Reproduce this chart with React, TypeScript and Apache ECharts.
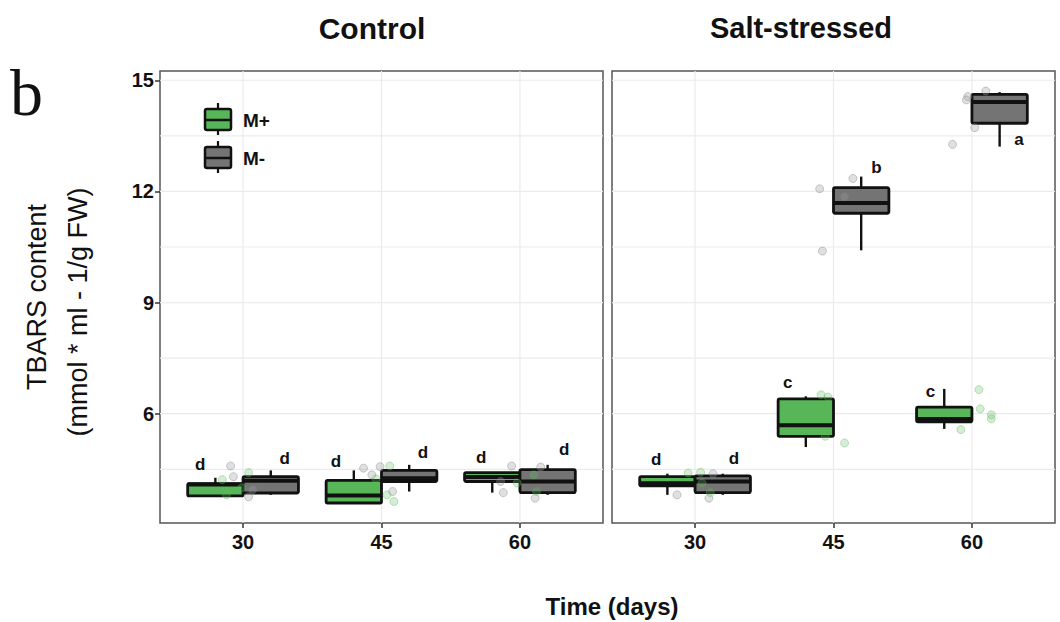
import React, { useEffect, useRef } from "react";
import * as echarts from "echarts";

const days = ["30", "45", "60"];
const groups = ["M+", "M-"];
const yTickValues = [6, 9, 12, 15];
const yGridValues = [4.5, 6, 7.5, 9, 10.5, 12, 13.5, 15];
const xGridValues = [1, 2, 3];

// box stats per day: [min, q1, median, q3, max]
const controlMPlus = [
  [3.78, 3.78, 4.09, 4.11, 4.27],
  [3.59, 3.59, 3.79, 4.2, 4.47],
  [3.87, 4.17, 4.29, 4.41, 4.41],
];
const controlMMinus = [
  [3.81, 3.86, 4.19, 4.3, 4.47],
  [3.9, 4.17, 4.26, 4.47, 4.62],
  [3.81, 3.87, 4.17, 4.49, 4.62],
];
const saltMPlus = [
  [3.81, 4.05, 4.12, 4.3, 4.38],
  [5.1, 5.39, 5.69, 6.4, 6.47],
  [5.59, 5.78, 5.86, 6.18, 6.67],
];
const saltMMinus = [
  [3.81, 3.87, 4.17, 4.32, 4.38],
  [10.41, 11.41, 11.69, 12.1, 12.4],
  [13.21, 13.84, 14.41, 14.62, 14.68],
];

// individual observations (jittered)
const controlMPlusPts = [[4.41, 4.22, 3.81, 4.0], [4.59, 4.24, 3.81, 3.63], [4.13, 4.35, 3.9]];
const controlMPlusJit = [[0.04, -0.15, -0.12, -0.01], [0.06, -0.04, 0.04, 0.09], [-0.02, 0.1, 0.12]];
const controlMMinusPts = [[4.59, 4.3, 3.76, 3.95], [4.53, 4.35, 4.57, 3.9], [4.59, 3.87, 4.56, 3.72, 4.17]];
const controlMMinusJit = [[-0.09, -0.07, 0.04, 0.07], [-0.13, -0.07, -0.01, 0.08], [-0.06, -0.12, 0.15, 0.11, -0.14]];
const saltMPlusPts = [[4.4, 4.42, 4.13, 3.87], [6.51, 5.39, 5.21, 6.45], [6.65, 6.13, 5.97, 5.86, 5.57]];
const saltMPlusJit = [[-0.05, 0.04, 0.05, 0.11], [-0.09, -0.06, 0.08, -0.04], [0.05, 0.06, 0.14, 0.14, -0.08]];
const saltMMinusPts = [[3.81, 3.72, 4.38], [12.07, 12.35, 10.39, 11.86], [14.56, 14.47, 14.71, 13.72, 13.27]];
const saltMMinusJit = [[-0.13, 0.1, 0.13], [-0.1, 0.14, -0.08, 0.08], [-0.03, -0.04, 0.1, 0.02, -0.14]];

// significance letters
const controlMPlusLetters = ["d", "d", "d"];
const controlMPlusLetterY = [4.62, 4.71, 4.83];
const controlMPlusLetterDx = [-0.31, -0.33, -0.28];
const controlMMinusLetters = ["d", "d", "d"];
const controlMMinusLetterY = [4.8, 4.95, 5.03];
const controlMMinusLetterDx = [0.3, 0.3, 0.32];
const saltMPlusLetters = ["d", "c", "c"];
const saltMPlusLetterY = [4.76, 6.83, 6.6];
const saltMPlusLetterDx = [-0.28, -0.33, -0.3];
const saltMMinusLetters = ["d", "b", "a"];
const saltMMinusLetterY = [4.78, 12.64, 13.41];
const saltMMinusLetterDx = [0.28, 0.31, 0.34];

const GREEN = "#57b657";
const GRAY = "#747474";
const FONT = "'Liberation Sans', Arial, sans-serif";

const boxRender = (fill: string) => (params: any, api: any) => {
  const x = api.value(0);
  const lo = api.value(1);
  const q1 = api.value(2);
  const med = api.value(3);
  const q3 = api.value(4);
  const hi = api.value(5);
  const tl = api.coord([x - 0.2, q3]);
  const br = api.coord([x + 0.2, q1]);
  const c = api.coord([x, hi]);
  const b = api.coord([x, lo]);
  const my = api.coord([x, med])[1];
  return {
    type: "group",
    children: [
      { type: "line", shape: { x1: c[0], y1: c[1], x2: c[0], y2: tl[1] }, style: { stroke: "#111", lineWidth: 2.4 } },
      { type: "line", shape: { x1: b[0], y1: br[1], x2: b[0], y2: b[1] }, style: { stroke: "#111", lineWidth: 2.4 } },
      {
        type: "rect",
        shape: { x: tl[0], y: tl[1], width: br[0] - tl[0], height: br[1] - tl[1], r: 1.5 },
        style: { fill, stroke: "#111", lineWidth: 2.8 },
      },
      { type: "line", shape: { x1: tl[0], y1: my, x2: br[0], y2: my }, style: { stroke: "#111", lineWidth: 4 } },
    ],
  };
};

const hGridRender = (params: any, api: any) => {
  const cs = params.coordSys;
  const y = api.coord([1, api.value(0)])[1];
  return { type: "line", shape: { x1: cs.x, y1: y, x2: cs.x + cs.width, y2: y }, style: { stroke: "#ebebeb", lineWidth: 1.2 } };
};
const vGridRender = (params: any, api: any) => {
  const cs = params.coordSys;
  const x = api.coord([api.value(0), 5])[0];
  return { type: "line", shape: { x1: x, y1: cs.y, x2: x, y2: cs.y + cs.height }, style: { stroke: "#ebebeb", lineWidth: 1.2 } };
};
const letterRender = (params: any, api: any) => {
  const p = api.coord([api.value(0), api.value(1)]);
  return {
    type: "text",
    x: p[0],
    y: p[1],
    style: { text: api.value(2), fontFamily: FONT, fontWeight: "bold", fontSize: 17, fill: "#111", align: "center", verticalAlign: "middle" },
  };
};

function panelSeries(idx: number, mp: number[][], mm: number[][], mpPts: number[][], mpJit: number[][], mmPts: number[][], mmJit: number[][],
  mpL: string[], mpLY: number[], mpLDx: number[], mmL: string[], mmLY: number[], mmLDx: number[]) {
  const ax = { xAxisIndex: idx, yAxisIndex: idx };
  const ptsData = (vals: number[][], jit: number[][]) =>
    vals.flatMap((arr, d) => arr.map((v, k) => [d + 1 + jit[d][k], v]));
  const letterData = (ls: string[], ly: number[], dx: number[]) => ls.map((l, d) => [d + 1 + dx[d], ly[d], l]);
  return [
    { type: "custom", ...ax, z: 1, silent: true, renderItem: hGridRender, data: yGridValues.map((v) => [v]), encode: { x: -1, y: 0 } },
    { type: "custom", ...ax, z: 1, silent: true, renderItem: vGridRender, data: xGridValues.map((v) => [v]), encode: { x: 0, y: -1 } },
    {
      type: "custom", name: groups[0], ...ax, z: 3, renderItem: boxRender(GREEN),
      data: mp.map((s, d) => [d + 1 - 0.2, ...s]), encode: { x: 0, y: [1, 2, 3, 4, 5] },
    },
    {
      type: "custom", name: groups[1], ...ax, z: 3, renderItem: boxRender(GRAY),
      data: mm.map((s, d) => [d + 1 + 0.2, ...s]), encode: { x: 0, y: [1, 2, 3, 4, 5] },
    },
    {
      type: "scatter", ...ax, z: 4, symbolSize: 8, data: ptsData(mmPts, mmJit),
      itemStyle: { color: "rgba(160,160,160,0.4)", borderColor: "rgba(130,130,130,0.5)", borderWidth: 1 },
    },
    {
      type: "scatter", ...ax, z: 4, symbolSize: 8, data: ptsData(mpPts, mpJit),
      itemStyle: { color: "rgba(100,190,100,0.35)", borderColor: "rgba(90,180,90,0.45)", borderWidth: 1 },
    },
    { type: "custom", ...ax, z: 5, renderItem: letterRender, data: letterData(mpL, mpLY, mpLDx), encode: { x: 0, y: 1 } },
    { type: "custom", ...ax, z: 5, renderItem: letterRender, data: letterData(mmL, mmLY, mmLDx), encode: { x: 0, y: 1 } },
  ];
}

export default function App() {
  const ref = useRef<HTMLDivElement>(null);
  useEffect(() => {
    document.body.style.margin = "0";
    const chart = echarts.init(ref.current!, undefined, { renderer: "svg" });
    const xAxisBase = (gi: number) => ({
      type: "value",
      gridIndex: gi,
      min: 0.4,
      max: 3.6,
      axisLine: { show: false },
      splitLine: { show: false },
      axisTick: { show: true, customValues: [1, 2, 3], length: 5, lineStyle: { color: "#333", width: 1.5 } },
      axisLabel: {
        customValues: [1, 2, 3],
        formatter: (v: number) => days[Math.round(v) - 1],
        fontFamily: FONT,
        fontWeight: "bold",
        fontSize: 20,
        color: "#111",
        margin: 9,
      },
    });
    const yAxisBase = (gi: number, showLabels: boolean) => ({
      type: "value",
      gridIndex: gi,
      min: 3.05,
      max: 15.25,
      axisLine: { show: false },
      splitLine: { show: false },
      axisTick: { show: showLabels, customValues: yTickValues, length: 5, lineStyle: { color: "#333", width: 1.5 } },
      axisLabel: {
        show: showLabels,
        customValues: yTickValues,
        fontFamily: FONT,
        fontWeight: "bold",
        fontSize: 20,
        color: "#111",
        margin: 6,
      },
    });
    const legendItem = (y: number, fill: string, label: string) => ({
      type: "group",
      children: [
        { type: "line", shape: { x1: 218, y1: y - 17, x2: 218, y2: y + 15 }, style: { stroke: "#111", lineWidth: 2.2 } },
        { type: "rect", shape: { x: 205, y: y - 11, width: 26, height: 21, r: 2 }, style: { fill, stroke: "#111", lineWidth: 2.5 } },
        { type: "line", shape: { x1: 205, y1: y, x2: 231, y2: y }, style: { stroke: "#111", lineWidth: 2.5 } },
        {
          type: "text", x: 243, y, style: { text: label, fontFamily: FONT, fontWeight: "bold", fontSize: 19, fill: "#111", verticalAlign: "middle" },
        },
      ],
    });
    chart.setOption({
      animation: false,
      backgroundColor: "#fff",
      grid: [
        { left: 160, right: 457, top: 71, bottom: 99, show: true, borderColor: "#555", borderWidth: 1.5, backgroundColor: "transparent" },
        { left: 612, right: 5, top: 71, bottom: 99, show: true, borderColor: "#555", borderWidth: 1.5, backgroundColor: "transparent" },
      ],
      xAxis: [xAxisBase(0), xAxisBase(1)],
      yAxis: [yAxisBase(0, true), yAxisBase(1, false)],
      series: [
        ...panelSeries(0, controlMPlus, controlMMinus, controlMPlusPts, controlMPlusJit, controlMMinusPts, controlMMinusJit,
          controlMPlusLetters, controlMPlusLetterY, controlMPlusLetterDx, controlMMinusLetters, controlMMinusLetterY, controlMMinusLetterDx),
        ...panelSeries(1, saltMPlus, saltMMinus, saltMPlusPts, saltMPlusJit, saltMMinusPts, saltMMinusJit,
          saltMPlusLetters, saltMPlusLetterY, saltMPlusLetterDx, saltMMinusLetters, saltMMinusLetterY, saltMMinusLetterDx),
      ],
      graphic: [
        { type: "text", x: 372, y: 28, style: { text: "Control", fontFamily: FONT, fontWeight: "bold", fontSize: 30, fill: "#111", align: "center", verticalAlign: "middle" } },
        { type: "text", x: 801, y: 28, style: { text: "Salt-stressed", fontFamily: FONT, fontWeight: "bold", fontSize: 29, fill: "#111", align: "center", verticalAlign: "middle" } },
        { type: "text", x: 612, y: 606, style: { text: "Time (days)", fontFamily: FONT, fontWeight: "bold", fontSize: 24, fill: "#111", align: "center", verticalAlign: "middle" } },
        { type: "text", x: 37, y: 297, rotation: Math.PI / 2, style: { text: "TBARS content", fontFamily: FONT, fontSize: 27, fill: "#111", align: "center", verticalAlign: "middle" } },
        { type: "text", x: 78, y: 312, rotation: Math.PI / 2, style: { text: "(mmol * ml - 1/g FW)", fontFamily: FONT, fontSize: 27, fill: "#111", align: "center", verticalAlign: "middle" } },
        { type: "text", x: 10, y: 92, style: { text: "b", fontFamily: "'Liberation Serif', 'Times New Roman', serif", fontSize: 66, fill: "#111", verticalAlign: "middle" } },
        legendItem(120, GREEN, groups[0]),
        legendItem(158, GRAY, groups[1]),
      ],
    });
    return () => chart.dispose();
  }, []);
  return <div ref={ref} style={{ position: "fixed", left: 0, top: 0, width: 1060, height: 622 }} />;
}
